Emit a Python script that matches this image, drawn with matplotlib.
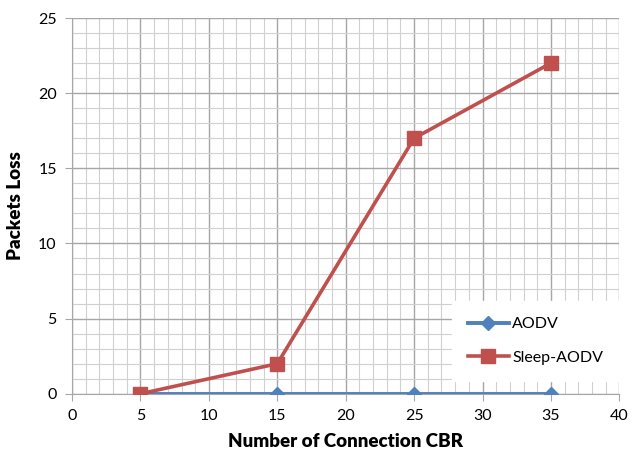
import numpy as np
import matplotlib.pyplot as plt
from matplotlib.ticker import MultipleLocator

# data
connections = [5, 15, 25, 35]
aodv = [0, 0, 0, 0]
sleep_aodv = [0, 2, 17, 22]

plt.rcParams['font.family'] = ['Lato', 'DejaVu Sans']

fig = plt.figure(figsize=(6.32, 4.5), dpi=100)
ax = fig.add_axes([0.114, 0.125, 0.866, 0.835])

ax.plot(connections, aodv, color='#4F81BD', linewidth=2.8, marker='D',
        markersize=7, label='AODV', zorder=3)
ax.plot(connections, sleep_aodv, color='#C0504D', linewidth=2.6, marker='s',
        markersize=10, label='Sleep-AODV', zorder=4)

ax.set_xlim(0, 40)
ax.set_ylim(0, 25)
ax.xaxis.set_major_locator(MultipleLocator(5))
ax.yaxis.set_major_locator(MultipleLocator(5))
ax.xaxis.set_minor_locator(MultipleLocator(1))
ax.yaxis.set_minor_locator(MultipleLocator(1))
ax.grid(which='major', color='#a6a6a6', linewidth=1.0)
ax.grid(which='minor', color='#d0d0d0', linewidth=0.8)
ax.set_axisbelow(True)

for s in ['top', 'right']:
    ax.spines[s].set_visible(False)
ax.spines['left'].set_color('#a6a6a6')
ax.spines['bottom'].set_color('#a6a6a6')
ax.tick_params(which='major', length=5, color='#a6a6a6', labelsize=11.5, pad=6)
ax.tick_params(which='minor', length=0)

ax.set_xlabel('Number of Connection CBR', fontsize=13.5, fontweight='heavy', labelpad=7)
ax.set_ylabel('Packets Loss', fontsize=13.5, fontweight='heavy', labelpad=10)

leg = ax.legend(loc='lower right', bbox_to_anchor=(1.0, 0.035), borderaxespad=0,
                fontsize=11.5, frameon=True, fancybox=False, edgecolor='white',
                framealpha=1, borderpad=1.0, labelspacing=1.2, handlelength=2.6,
                handletextpad=0.2)

fig.savefig('out.png', dpi=100)
